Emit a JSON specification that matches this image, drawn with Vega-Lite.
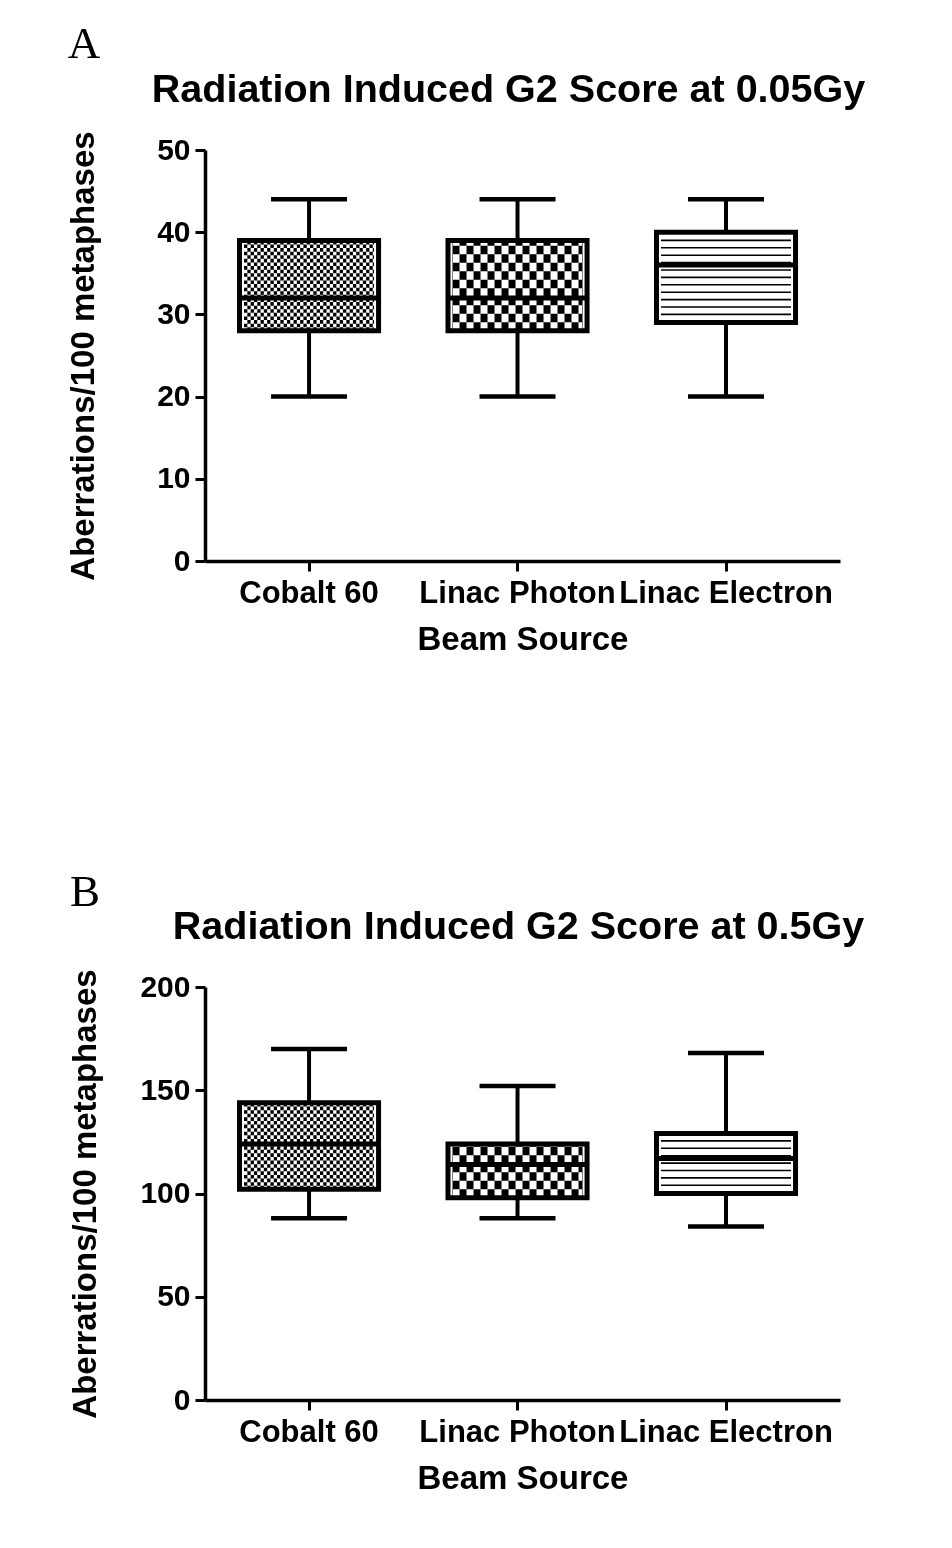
{
  "$schema": "https://vega.github.io/schema/vega-lite/v6.json",
  "background": "white",
  "padding": {"left": 67, "top": 22, "right": 10, "bottom": 10},
  "columns": 1,
  "align": "none",
  "spacing": 214,
  "config": {
    "font": "Liberation Sans",
    "view": {"stroke": null},
    "axis": {
      "grid": false,
      "domainColor": "black",
      "domainWidth": 3.5,
      "tickColor": "black",
      "tickWidth": 3,
      "tickSize": 10,
      "labelColor": "black",
      "labelFont": "Liberation Sans",
      "labelFontWeight": "bold",
      "labelFontSize": 30,
      "labelPadding": 5,
      "titleColor": "black",
      "titleFont": "Liberation Sans",
      "titleFontWeight": "bold",
      "titleFontSize": 33
    },
    "title": {"color": "black"}
  },
  "concat": [
    {
      "width": 635,
      "height": 411,
      "title": {"text": "A", "anchor": "start", "font": "Liberation Serif", "fontSize": 45, "fontWeight": "normal", "frame": "bounds", "offset": 2},
      "data": {"values": [
        {"source": "Cobalt 60", "min": 20, "q1": 28, "median": 32, "q3": 39, "max": 44},
        {"source": "Linac Photon", "min": 20, "q1": 28, "median": 32, "q3": 39, "max": 44},
        {"source": "Linac Electron", "min": 20, "q1": 29, "median": 36, "q3": 40, "max": 44}
      ]},
      "encoding": {
        "x": {"field": "source", "type": "nominal", "sort": ["Cobalt 60", "Linac Photon", "Linac Electron"],
          "scale": {"paddingInner": 0.333, "paddingOuter": 0.1894, "align": 0.437}, "axis": null}
      },
      "layer": [
        {
          "mark": {"type": "rule", "strokeCap": "butt", "strokeWidth": 130, "color": "black"},
          "encoding": {
            "x": {"field": "source", "type": "nominal", "sort": ["Cobalt 60", "Linac Photon", "Linac Electron"],
              "scale": {"paddingInner": 0.333, "paddingOuter": 0.1894, "align": 0.437},
              "axis": {"title": "Beam Source", "zindex": 1, "labelAngle": 0, "labelLimit": 0, "labelOverlap": false, "labelPadding": 7, "titlePadding": 15, "labelFontSize": 31}},
            "y": {"field": "q1", "type": "quantitative", "title": "Aberrations/100 metaphases", "scale": {"domain": [0, 50], "nice": false}, "axis": {"values": [0, 10, 20, 30, 40, 50], "titlePadding": 56, "zindex": 1}},
            "y2": {"field": "q3"},
            "strokeDash": {"field": "source", "type": "nominal", "legend": null,
              "scale": {"domain": ["Cobalt 60", "Linac Photon", "Linac Electron"], "range": [[3.6, 3.6], [8.5, 8.5], [1.6, 5.8]]}}
          }
        },
        {
          "transform": [{"filter": "datum.source !== 'Linac Electron'"}],
          "mark": {"type": "rule", "strokeCap": "butt", "strokeWidth": 130, "color": "white", "blend": "difference", "xOffset": -65, "x2Offset": 65},
          "encoding": {
            "x2": {"field": "source"},
            "y": {"datum": 34, "type": "quantitative", "title": "Aberrations/100 metaphases", "scale": {"domain": [0, 50], "nice": false}},
            "strokeDash": {"field": "source", "type": "nominal", "legend": null,
              "scale": {"domain": ["Cobalt 60", "Linac Photon"], "range": [[3.3, 3.3], [7, 7]]}}
          }
        },
        {
          "mark": {"type": "rect", "color": "white"},
          "encoding": {
            "y": {"field": "q3", "type": "quantitative", "title": "Aberrations/100 metaphases", "scale": {"domain": [0, 50], "nice": false}},
            "y2": {"datum": 48}
          }
        },
        {
          "mark": {"type": "rect", "color": "white"},
          "encoding": {
            "y": {"field": "q1", "type": "quantitative", "title": "Aberrations/100 metaphases", "scale": {"domain": [0, 50], "nice": false}},
            "y2": {"datum": 15}
          }
        },
        {
          "mark": {"type": "rule", "strokeWidth": 4, "color": "black"},
          "encoding": {
            "y": {"field": "min", "type": "quantitative", "title": "Aberrations/100 metaphases", "scale": {"domain": [0, 50], "nice": false}},
            "y2": {"field": "q1"}
          }
        },
        {
          "mark": {"type": "rule", "strokeWidth": 4, "color": "black"},
          "encoding": {
            "y": {"field": "q3", "type": "quantitative", "title": "Aberrations/100 metaphases", "scale": {"domain": [0, 50], "nice": false}},
            "y2": {"field": "max"}
          }
        },
        {
          "mark": {"type": "tick", "orient": "horizontal", "size": 76, "thickness": 4.5, "color": "black", "opacity": 1},
          "encoding": {
            "y": {"field": "min", "type": "quantitative", "title": "Aberrations/100 metaphases", "scale": {"domain": [0, 50], "nice": false}}
          }
        },
        {
          "mark": {"type": "tick", "orient": "horizontal", "size": 76, "thickness": 4.5, "color": "black", "opacity": 1},
          "encoding": {
            "y": {"field": "max", "type": "quantitative", "title": "Aberrations/100 metaphases", "scale": {"domain": [0, 50], "nice": false}}
          }
        },
        {
          "mark": {"type": "rect", "filled": false, "color": "black", "strokeWidth": 5, "strokeJoin": "miter", "opacity": 1},
          "encoding": {
            "y": {"field": "q1", "type": "quantitative", "title": "Aberrations/100 metaphases", "scale": {"domain": [0, 50], "nice": false}},
            "y2": {"field": "q3"}
          }
        },
        {
          "mark": {"type": "tick", "orient": "horizontal", "size": 139, "thickness": 5, "color": "black", "opacity": 1},
          "encoding": {
            "x": {"field": "source", "type": "nominal", "sort": ["Cobalt 60", "Linac Photon", "Linac Electron"],
              "scale": {"paddingInner": 0.333, "paddingOuter": 0.1894, "align": 0.437},
              "axis": {"orient": "top", "title": "Radiation Induced G2 Score at 0.05Gy", "titleFontSize": 39.5, "titleX": 303, "domain": false, "ticks": false, "labels": false, "titlePadding": 41}},
            "y": {"field": "median", "type": "quantitative", "title": "Aberrations/100 metaphases", "scale": {"domain": [0, 50], "nice": false}}
          }
        }
      ],
      "resolve": {"scale": {"strokeDash": "independent"}, "axis": {"x": "independent"}}
    },
    {
      "width": 635,
      "height": 413,
      "title": {"text": "B", "anchor": "start", "font": "Liberation Serif", "fontSize": 45, "fontWeight": "normal", "frame": "bounds", "offset": -9},
      "data": {"values": [
        {"source": "Cobalt 60", "min": 88, "q1": 102, "median": 124, "q3": 144, "max": 170},
        {"source": "Linac Photon", "min": 88, "q1": 98, "median": 114, "q3": 124, "max": 152},
        {"source": "Linac Electron", "min": 84, "q1": 100, "median": 117, "q3": 129, "max": 168}
      ]},
      "encoding": {
        "x": {"field": "source", "type": "nominal", "sort": ["Cobalt 60", "Linac Photon", "Linac Electron"],
          "scale": {"paddingInner": 0.333, "paddingOuter": 0.1894, "align": 0.437}, "axis": null}
      },
      "layer": [
        {
          "mark": {"type": "rule", "strokeCap": "butt", "strokeWidth": 130, "color": "black"},
          "encoding": {
            "x": {"field": "source", "type": "nominal", "sort": ["Cobalt 60", "Linac Photon", "Linac Electron"],
              "scale": {"paddingInner": 0.333, "paddingOuter": 0.1894, "align": 0.437},
              "axis": {"title": "Beam Source", "zindex": 1, "labelAngle": 0, "labelLimit": 0, "labelOverlap": false, "labelPadding": 7, "titlePadding": 15, "labelFontSize": 31}},
            "y": {"field": "q1", "type": "quantitative", "title": "Aberrations/100 metaphases", "scale": {"domain": [0, 200], "nice": false}, "axis": {"values": [0, 50, 100, 150, 200], "titlePadding": 37, "zindex": 1}},
            "y2": {"field": "q3"},
            "strokeDash": {"field": "source", "type": "nominal", "legend": null,
              "scale": {"domain": ["Cobalt 60", "Linac Photon", "Linac Electron"], "range": [[3.6, 3.6], [8.5, 8.5], [1.6, 5.8]]}}
          }
        },
        {
          "transform": [{"filter": "datum.source !== 'Linac Electron'"}],
          "mark": {"type": "rule", "strokeCap": "butt", "strokeWidth": 120, "color": "white", "blend": "difference", "xOffset": -65, "x2Offset": 65},
          "encoding": {
            "x2": {"field": "source"},
            "y": {"datum": 121, "type": "quantitative", "title": "Aberrations/100 metaphases", "scale": {"domain": [0, 200], "nice": false}},
            "strokeDash": {"field": "source", "type": "nominal", "legend": null,
              "scale": {"domain": ["Cobalt 60", "Linac Photon"], "range": [[3.3, 3.3], [7, 7]]}}
          }
        },
        {
          "mark": {"type": "rect", "color": "white"},
          "encoding": {
            "y": {"field": "q3", "type": "quantitative", "title": "Aberrations/100 metaphases", "scale": {"domain": [0, 200], "nice": false}},
            "y2": {"datum": 190}
          }
        },
        {
          "mark": {"type": "rect", "color": "white"},
          "encoding": {
            "y": {"field": "q1", "type": "quantitative", "title": "Aberrations/100 metaphases", "scale": {"domain": [0, 200], "nice": false}},
            "y2": {"datum": 60}
          }
        },
        {
          "mark": {"type": "rule", "strokeWidth": 4, "color": "black"},
          "encoding": {
            "y": {"field": "min", "type": "quantitative", "title": "Aberrations/100 metaphases", "scale": {"domain": [0, 200], "nice": false}},
            "y2": {"field": "q1"}
          }
        },
        {
          "mark": {"type": "rule", "strokeWidth": 4, "color": "black"},
          "encoding": {
            "y": {"field": "q3", "type": "quantitative", "title": "Aberrations/100 metaphases", "scale": {"domain": [0, 200], "nice": false}},
            "y2": {"field": "max"}
          }
        },
        {
          "mark": {"type": "tick", "orient": "horizontal", "size": 76, "thickness": 4.5, "color": "black", "opacity": 1},
          "encoding": {
            "y": {"field": "min", "type": "quantitative", "title": "Aberrations/100 metaphases", "scale": {"domain": [0, 200], "nice": false}}
          }
        },
        {
          "mark": {"type": "tick", "orient": "horizontal", "size": 76, "thickness": 4.5, "color": "black", "opacity": 1},
          "encoding": {
            "y": {"field": "max", "type": "quantitative", "title": "Aberrations/100 metaphases", "scale": {"domain": [0, 200], "nice": false}}
          }
        },
        {
          "mark": {"type": "rect", "filled": false, "color": "black", "strokeWidth": 5, "strokeJoin": "miter", "opacity": 1},
          "encoding": {
            "y": {"field": "q1", "type": "quantitative", "title": "Aberrations/100 metaphases", "scale": {"domain": [0, 200], "nice": false}},
            "y2": {"field": "q3"}
          }
        },
        {
          "mark": {"type": "tick", "orient": "horizontal", "size": 139, "thickness": 5, "color": "black", "opacity": 1},
          "encoding": {
            "x": {"field": "source", "type": "nominal", "sort": ["Cobalt 60", "Linac Photon", "Linac Electron"],
              "scale": {"paddingInner": 0.333, "paddingOuter": 0.1894, "align": 0.437},
              "axis": {"orient": "top", "title": "Radiation Induced G2 Score at 0.5Gy", "titleFontSize": 39.5, "titleX": 313, "domain": false, "ticks": false, "labels": false, "titlePadding": 41}},
            "y": {"field": "median", "type": "quantitative", "title": "Aberrations/100 metaphases", "scale": {"domain": [0, 200], "nice": false}}
          }
        }
      ],
      "resolve": {"scale": {"strokeDash": "independent"}, "axis": {"x": "independent"}}
    }
  ]
}
